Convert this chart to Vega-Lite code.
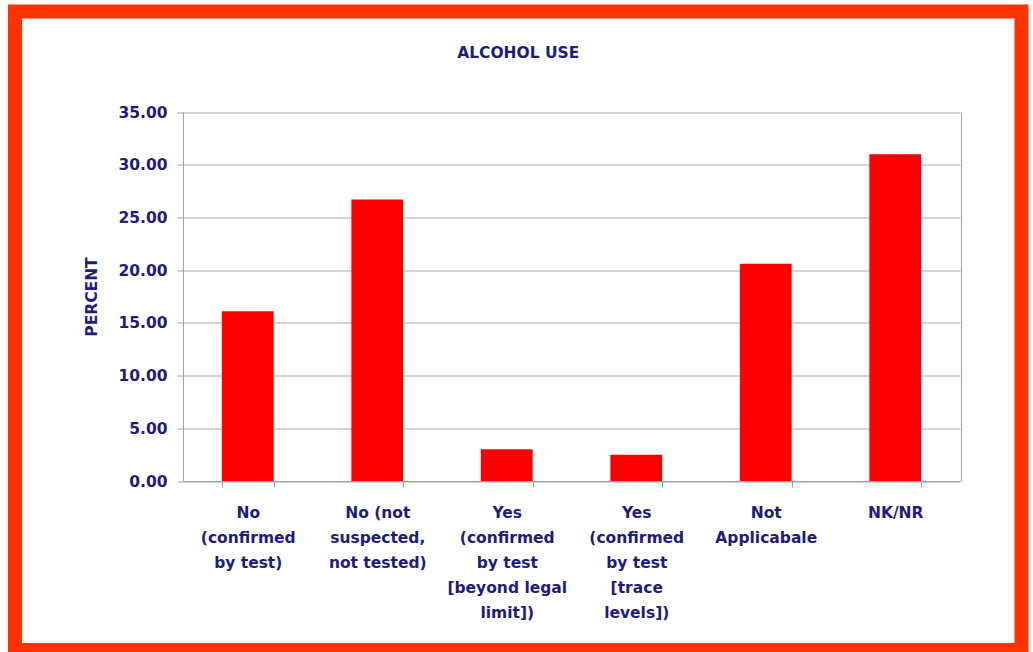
{
  "$schema": "https://vega.github.io/schema/vega-lite/v6.json",
  "width": 1006.5,
  "height": 638.5,
  "autosize": {"type": "none"},
  "padding": {"left": 15, "top": 11.5, "right": 11.5, "bottom": 2},
  "background": "white",
  "title": {
    "text": "ALCOHOL USE",
    "anchor": "middle",
    "frame": "group",
    "offset": -50,
    "fontSize": 15.5,
    "font": "DejaVu Sans",
    "fontWeight": "bold",
    "color": "#1c1c80"
  },
  "data": {
    "values": [
      {"category": "No\n(confirmed\nby test)", "percent": 16.1},
      {"category": "No (not\nsuspected,\nnot tested)", "percent": 26.7},
      {"category": "Yes\n(confirmed\nby test\n[beyond legal\nlimit])", "percent": 3.0},
      {"category": "Yes\n(confirmed\nby test\n[trace\nlevels])", "percent": 2.5},
      {"category": "Not\nApplicabale", "percent": 20.6},
      {"category": "NK/NR", "percent": 31.0}
    ]
  },
  "encoding": {
    "x": {
      "field": "category",
      "type": "nominal",
      "sort": null,
      "scale": {"range": [168, 945], "paddingInner": 0.6, "paddingOuter": 0.3},
      "axis": {
        "title": null,
        "labelAngle": 0,
        "labelExpr": "isString(datum.value) ? split(datum.value, '\\n') : ''",
        "labelFontSize": 15.5,
        "labelFont": "DejaVu Sans",
        "labelFontWeight": "bold",
        "labelColor": "#1c1c80",
        "labelLineHeight": 25,
        "labelPadding": 18,
        "labelOverlap": false,
        "labelLimit": 0,
        "tickBand": "extent",
        "tickSize": 6,
        "tickColor": "#a0a0a0",
        "domainColor": "#a0a0a0",
        "offset": -169,
        "grid": false
      }
    }
  },
  "layer": [
    {
      "mark": {"type": "bar", "color": "#FF0000"},
      "encoding": {
        "y": {
          "field": "percent",
          "type": "quantitative",
          "scale": {"domain": [0, 35], "range": [469.5, 100.5], "nice": false},
          "axis": {
            "orient": "left",
            "offset": -168,
            "values": [0, 5, 10, 15, 20, 25, 30, 35],
            "format": ".2f",
            "title": "PERCENT",
            "titleFontSize": 15.5,
            "titleFont": "DejaVu Sans",
            "titleFontWeight": "bold",
            "titleColor": "#1c1c80",
            "titlePadding": 18,
            "labelFontSize": 15.5,
            "labelFont": "DejaVu Sans",
            "labelFontWeight": "bold",
            "labelColor": "#1c1c80",
            "labelPadding": 10,
            "tickSize": 6,
            "tickColor": "#a0a0a0",
            "domainColor": "#a0a0a0",
            "grid": true,
            "gridColor": "#a8a8a8",
            "gridWidth": 1.2
          }
        }
      }
    },
    {
      "mark": {"type": "bar", "opacity": 0},
      "encoding": {
        "y": {
          "field": "percent",
          "type": "quantitative",
          "axis": {
            "orient": "right",
            "offset": -60.5,
            "labels": false,
            "ticks": false,
            "grid": false,
            "title": null,
            "domainColor": "#a0a0a0"
          }
        }
      }
    }
  ],
  "resolve": {"axis": {"y": "independent"}},
  "config": {
    "view": {"stroke": "#FF3300", "strokeWidth": 14, "fill": "white"}
  }
}
